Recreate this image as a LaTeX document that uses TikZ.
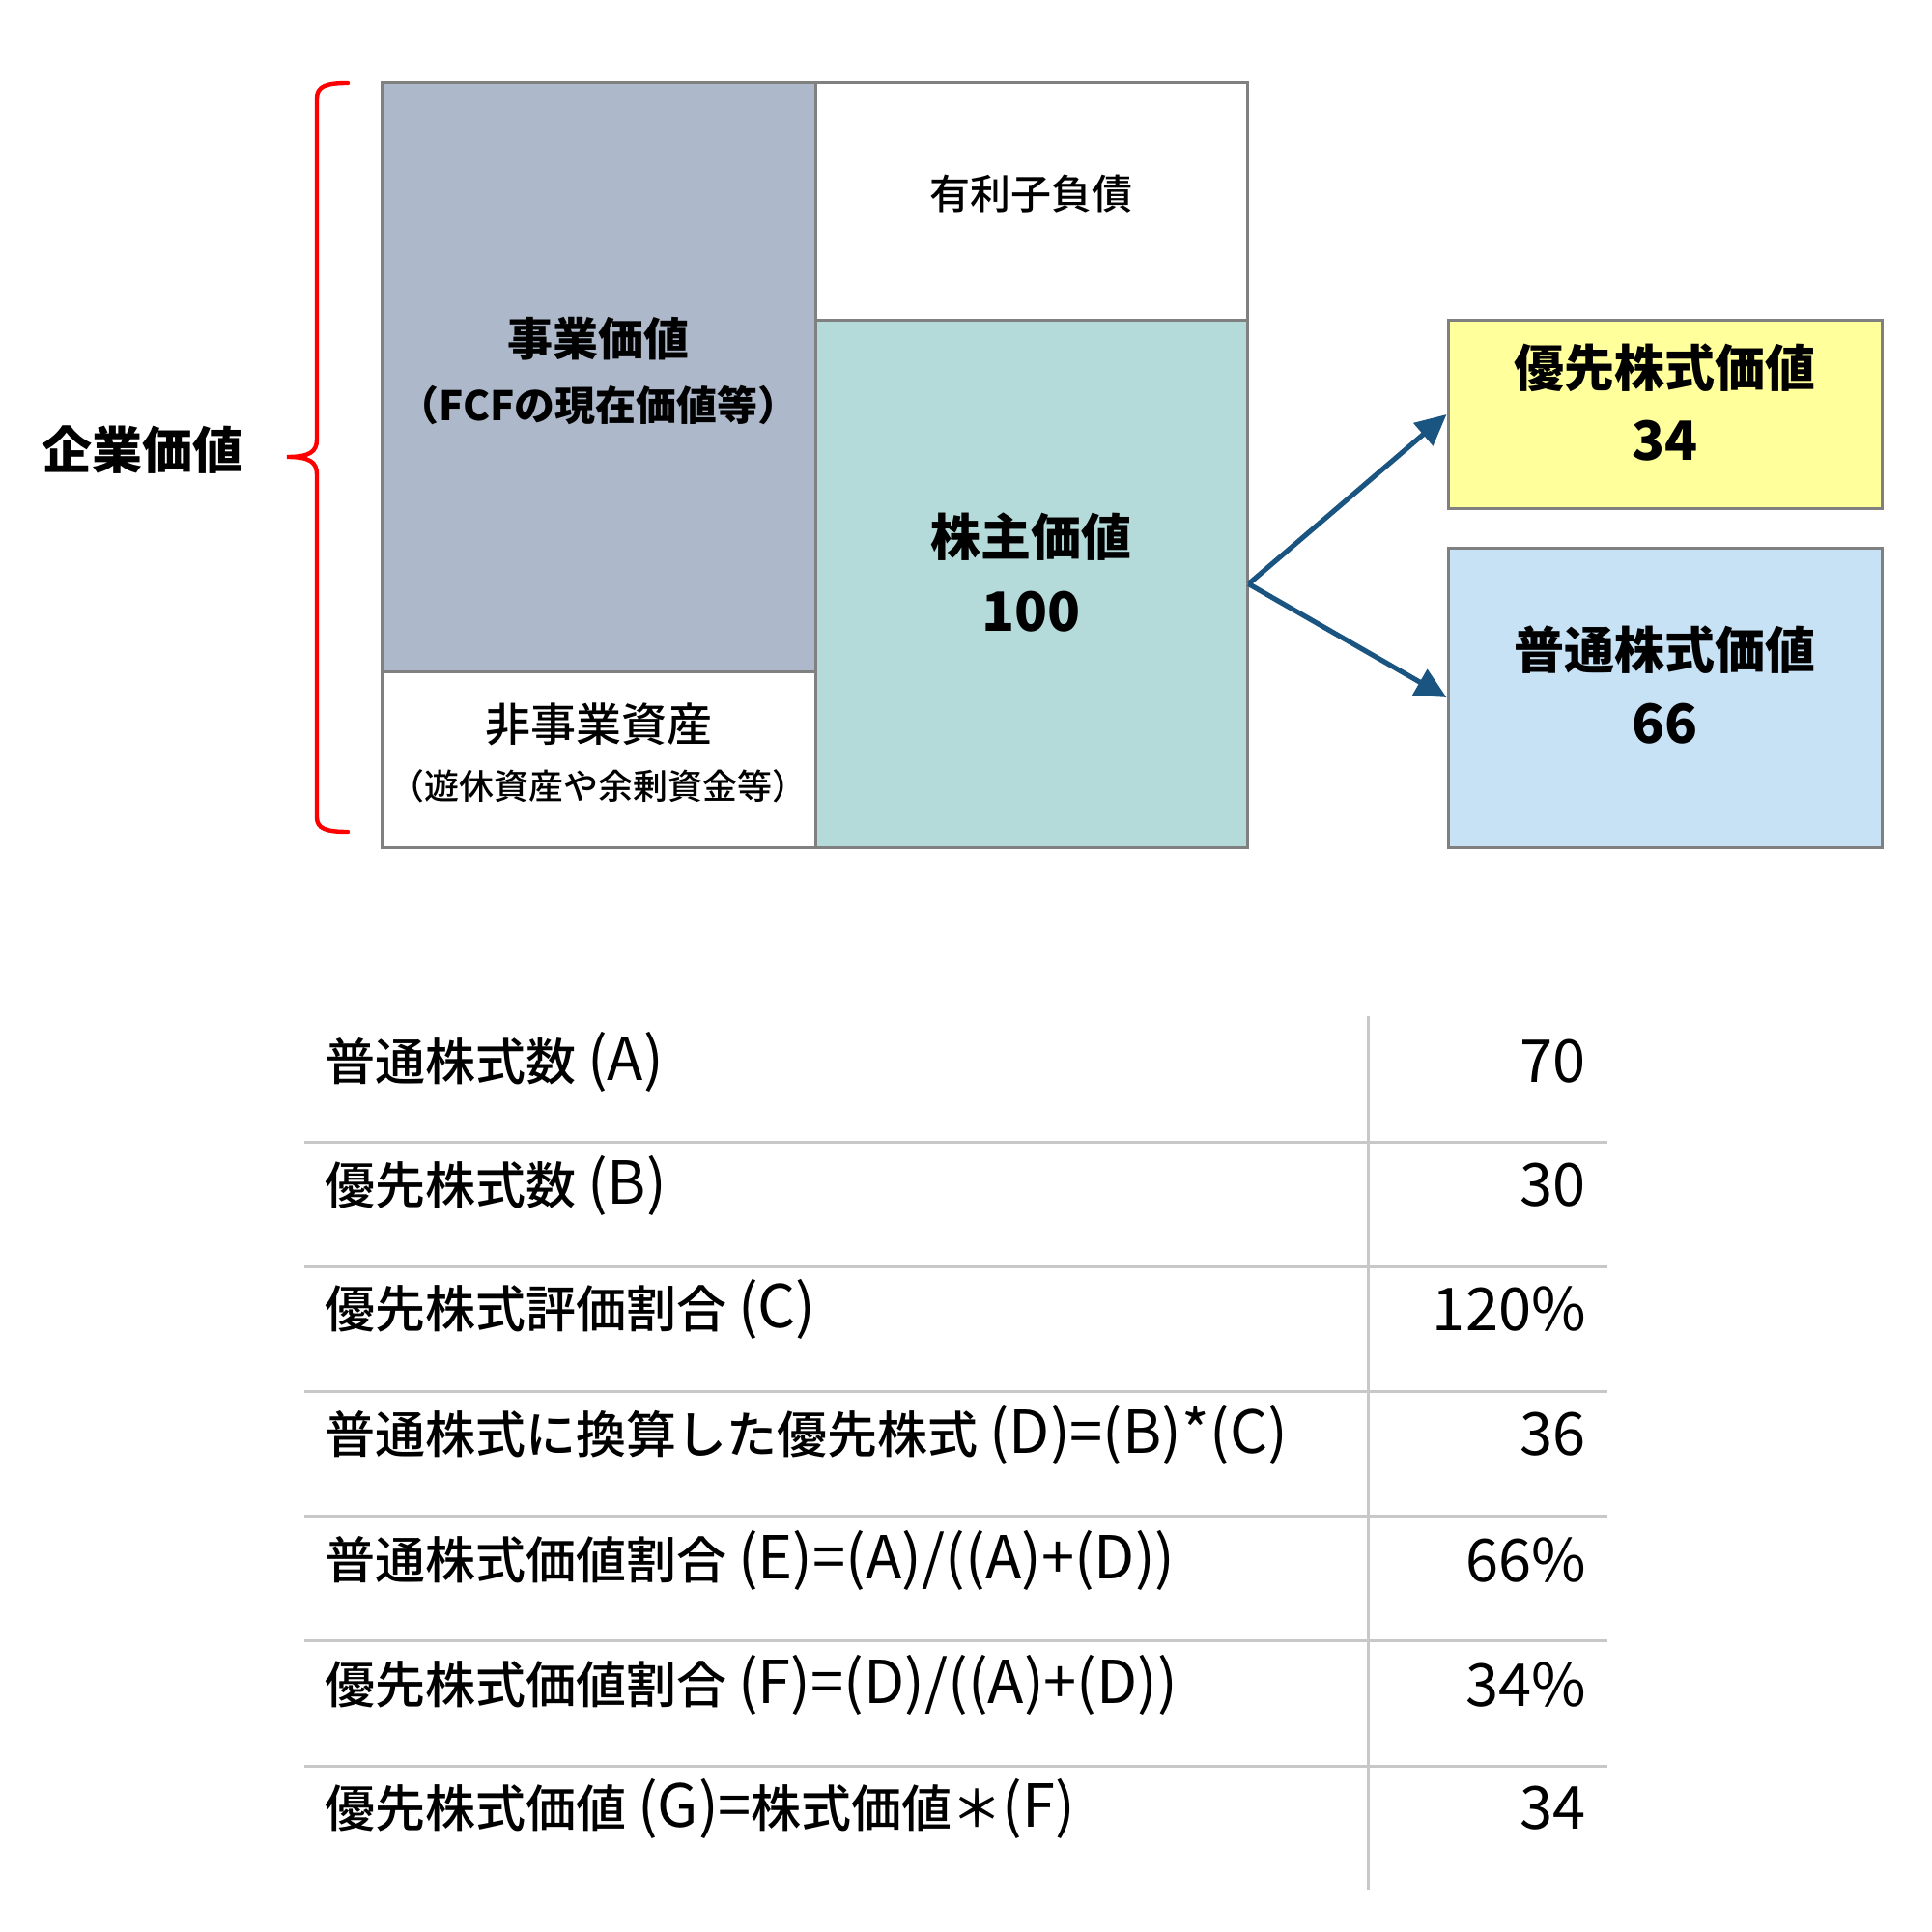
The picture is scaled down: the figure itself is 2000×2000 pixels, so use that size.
\documentclass[tikz,border=0pt]{standalone}
\usepackage{fontspec}
\setmainfont{Noto Sans CJK JP Medium}
\newfontfamily\heavy{Noto Sans CJK JP Black}
\newfontfamily\lat{Noto Sans CJK JP}[Scale=1.18]
\usetikzlibrary{arrows.meta}
\definecolor{bizgray}{RGB}{173,185,202}
\definecolor{eqteal}{RGB}{181,218,218}
\definecolor{prefyel}{RGB}{255,255,156}
\definecolor{comblue}{RGB}{200,226,245}
\definecolor{edgegray}{RGB}{128,128,128}
\definecolor{arrowblue}{RGB}{26,84,128}
\definecolor{rulegray}{RGB}{200,200,200}
\tikzset{
  blockbox/.style={draw=edgegray, line width=1.5pt, inner sep=0pt, align=center, text=black},
  flowarrow/.style={draw=arrowblue, line width=2.6pt, -{Triangle[length=16pt,width=15pt]}},
  tablerule/.style={draw=rulegray, line width=1.5pt},
  rowlabel/.style={anchor=west, inner sep=0pt, font=\fontsize{26}{30}\selectfont},
  rowvalue/.style={anchor=east, inner sep=0pt, font=\fontsize{26}{30}\selectfont\lat},
}
\begin{document}
\begin{tikzpicture}[x=0.5pt,y=-0.5pt]
\useasboundingbox (0,0) rectangle (2000,2000);
% blocks
\node[blockbox, fill=bizgray, minimum width=224.5pt, minimum height=304.5pt, text depth=9pt,
      font=\fontsize{23.5}{33.5}\selectfont\heavy] (biz) at (619.5,390.5)
  {事業価値\\
   \fontsize{21}{33.5}\selectfont （FCFの現在価値等）};
\node[blockbox, fill=white, minimum width=224.5pt, minimum height=91pt, text depth=8.5pt,
      font=\fontsize{23.5}{30}\selectfont] (nonbiz) at (619.5,786)
  {非事業資産\\
   \fontsize{18}{30}\selectfont （遊休資産や余剰資金等）};
\node[blockbox, fill=white, minimum width=223.5pt, minimum height=123pt, text depth=10pt,
      font=\fontsize{21}{26}\selectfont] (debt) at (1067.5,209)
  {有利子負債};
\node[blockbox, fill=eqteal, minimum width=223.5pt, minimum height=272.5pt, text depth=12pt,
      font=\fontsize{26}{39}\selectfont\heavy] (equity) at (1067.5,604.5)
  {株主価値\\
   \fontsize{28}{39}\selectfont 100};
\node[blockbox, fill=prefyel, minimum width=224.5pt, minimum height=97pt, text depth=13pt,
      font=\fontsize{26}{38}\selectfont\heavy] (pref) at (1723.5,429)
  {優先株式価値\\
   \fontsize{28}{38}\selectfont 34};
\node[blockbox, fill=comblue, minimum width=224.5pt, minimum height=155pt, text depth=13pt,
      font=\fontsize{26}{38.5}\selectfont\heavy] (common) at (1723.5,722)
  {普通株式価値\\
   \fontsize{28}{38.5}\selectfont 66};
% arrows
\draw[flowarrow] (equity.east) -- (pref.west);
\draw[flowarrow] (equity.east) -- (common.west);
% brace
\node[inner sep=0pt, font=\fontsize{26}{30}\selectfont\heavy] (ev) at (147,466) {企業価値};
\coordinate (bracetip) at (297,473);
\draw[red, line width=2.2pt, line cap=round]
  (360,86) .. controls (338,86) and (328,89) .. (328,102) -- (328,455)
  .. controls (328,468) and (320,473) .. (bracetip)
  .. controls (320,473) and (328,478) .. (328,491) -- (328,846)
  .. controls (328,858) and (338,861) .. (360,861);
% table rules
\draw[tablerule] (1416,1052) -- (1416,1957);
\foreach \yy in {1182,1311,1440,1569,1698,1828}
  \draw[tablerule] (315,\yy) -- (1664,\yy);
% table rows
\node[rowlabel] (l1) at (336,1099) {普通株式数 {\lat (A)}};
\node[rowvalue] (v1) at (1642,1099) {70};
\node[rowlabel] (l2) at (336,1227) {優先株式数 {\lat (B)}};
\node[rowvalue] (v2) at (1642,1227) {30};
\node[rowlabel] (l3) at (336,1355) {優先株式評価割合 {\lat (C)}};
\node[rowvalue] (v3) at (1642,1355) {120\%};
\node[rowlabel] (l4) at (336,1485) {普通株式に換算した優先株式 {\lat (D)=(B)*(C)}};
\node[rowvalue] (v4) at (1642,1485) {36};
\node[rowlabel] (l5) at (336,1615) {普通株式価値割合 {\lat (E)=(A)/((A)+(D))}};
\node[rowvalue] (v5) at (1642,1615) {66\%};
\node[rowlabel] (l6) at (336,1744) {優先株式価値割合 {\lat (F)=(D)/((A)+(D))}};
\node[rowvalue] (v6) at (1642,1744) {34\%};
\node[rowlabel] (l7) at (336,1872) {優先株式価値 {\lat (G)=}株式価値＊{\lat (F)}};
\node[rowvalue] (v7) at (1642,1872) {34};
\end{tikzpicture}
\end{document}
